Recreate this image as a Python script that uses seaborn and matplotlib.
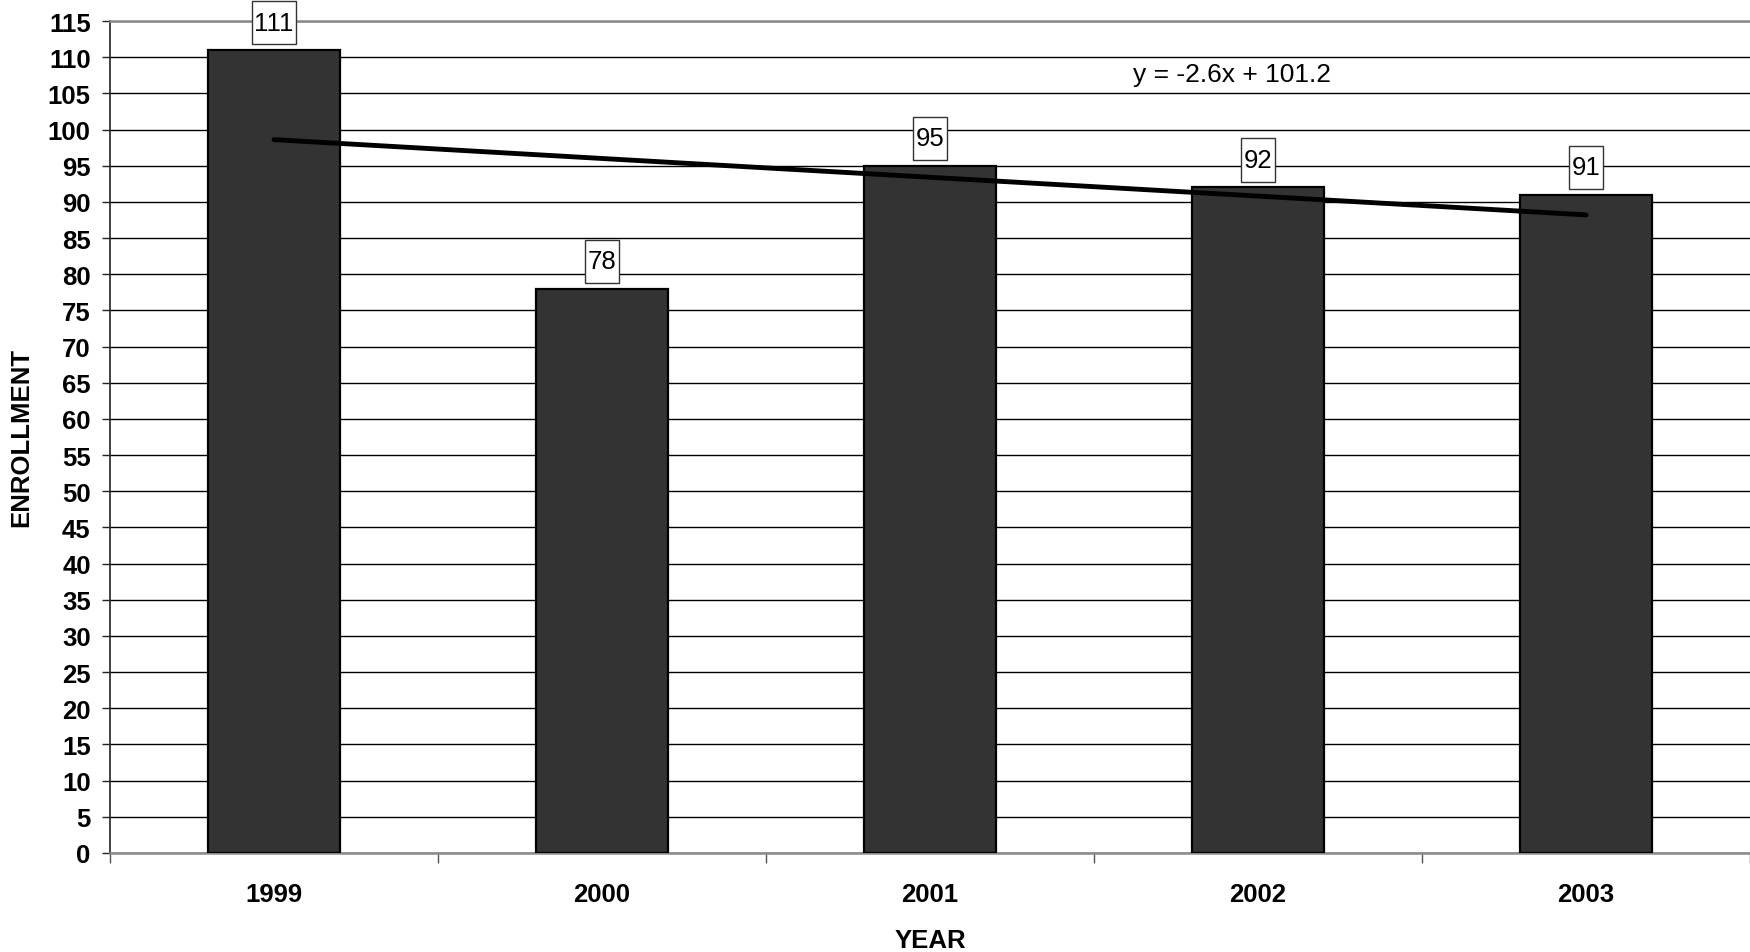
import numpy as np
import pandas as pd
import matplotlib
matplotlib.use("Agg")
import matplotlib.pyplot as plt
from matplotlib.path import Path
from matplotlib.ticker import FixedLocator, MultipleLocator, NullFormatter
import seaborn as sns

# Enrollment by year
years = ["1999", "2000", "2001", "2002", "2003"]
enrollment = [111, 78, 95, 92, 91]

y_max = 115
y_step = 5

sns.set_theme(style="white")
plt.rcParams["font.family"] = ["Liberation Sans", "DejaVu Sans"]

df = pd.DataFrame({"YEAR": years, "ENROLLMENT": enrollment})

fig = plt.figure(figsize=(17.5, 9.53), dpi=100)
ax = fig.add_axes([0.0629, 0.1039, 0.9371, 0.873])

sns.barplot(data=df, x="YEAR", y="ENROLLMENT", color="#333333", width=0.4,
            edgecolor="black", linewidth=1.6, saturation=1, ax=ax, zorder=3)

ax.set_xlim(-0.5, len(years) - 0.5)
ax.set_ylim(0, y_max)

# Horizontal gridlines every 5
ax.yaxis.set_major_locator(MultipleLocator(y_step))
ax.grid(axis="y", color="black", linewidth=1.0, zorder=0)
ax.grid(axis="x", visible=False)
ax.set_axisbelow(True)

# Spines
ax.spines["right"].set_visible(False)
ax.spines["top"].set_color("#8a8a8a")
ax.spines["top"].set_linewidth(1.8)
ax.spines["bottom"].set_color("#8a8a8a")
ax.spines["bottom"].set_linewidth(1.8)
ax.spines["left"].set_color("#222222")
ax.spines["left"].set_linewidth(1.2)

tick_fs = 18.5

# Ticks: category separators on x, outward ticks on y
ax.tick_params(axis="y", which="major", direction="out", length=6, width=1.0,
               color="#222222", pad=8, labelsize=tick_fs, left=True)
ax.tick_params(axis="x", which="major", length=0, pad=21, labelsize=tick_fs)
ax.xaxis.set_minor_locator(FixedLocator(np.arange(-0.5, len(years), 1.0)))
ax.xaxis.set_minor_formatter(NullFormatter())
ax.tick_params(axis="x", which="minor", direction="out", length=7, width=1.0,
               color="#555555", bottom=True)
for lbl in ax.get_xticklabels() + ax.get_yticklabels():
    lbl.set_fontweight("bold")
    lbl.set_color("black")

ax.set_xlabel("YEAR", fontsize=tick_fs, fontweight="bold", labelpad=16, color="black")
ax.set_ylabel("ENROLLMENT", fontsize=tick_fs, fontweight="bold", labelpad=10, color="black")


# Value boxes: narrow sides, tall top and bottom
def tall_box(x0, y0, width, height, mutation_size):
    px = 0.1 * mutation_size
    py = 0.38 * mutation_size
    x0, y0 = x0 - px, y0 - py
    x1, y1 = x0 + width + 2 * px, y0 + height + 2 * py
    return Path([(x0, y0), (x1, y0), (x1, y1), (x0, y1), (x0, y0)], closed=True)


for i, v in enumerate(enrollment):
    ax.annotate(str(v), xy=(i, v), xytext=(0, 11), textcoords="offset points",
                ha="center", va="bottom", fontsize=18.5, color="black", zorder=6,
                annotation_clip=False,
                bbox=dict(boxstyle=tall_box, facecolor="white",
                          edgecolor="#333333", linewidth=1.0))

# Linear trendline over positions 1..n
xs = np.arange(1, len(enrollment) + 1)
slope, intercept = np.polyfit(xs, enrollment, 1)
ax.plot(xs - 1, slope * xs + intercept, color="black", linewidth=3.5,
        solid_capstyle="round", zorder=5)
ax.text(2.62, 107.7, f"y = {slope:.1f}x + {intercept:.1f}", fontsize=19,
        ha="left", va="center", color="black", zorder=6)

fig.savefig("out.png", dpi=100, facecolor="white")
